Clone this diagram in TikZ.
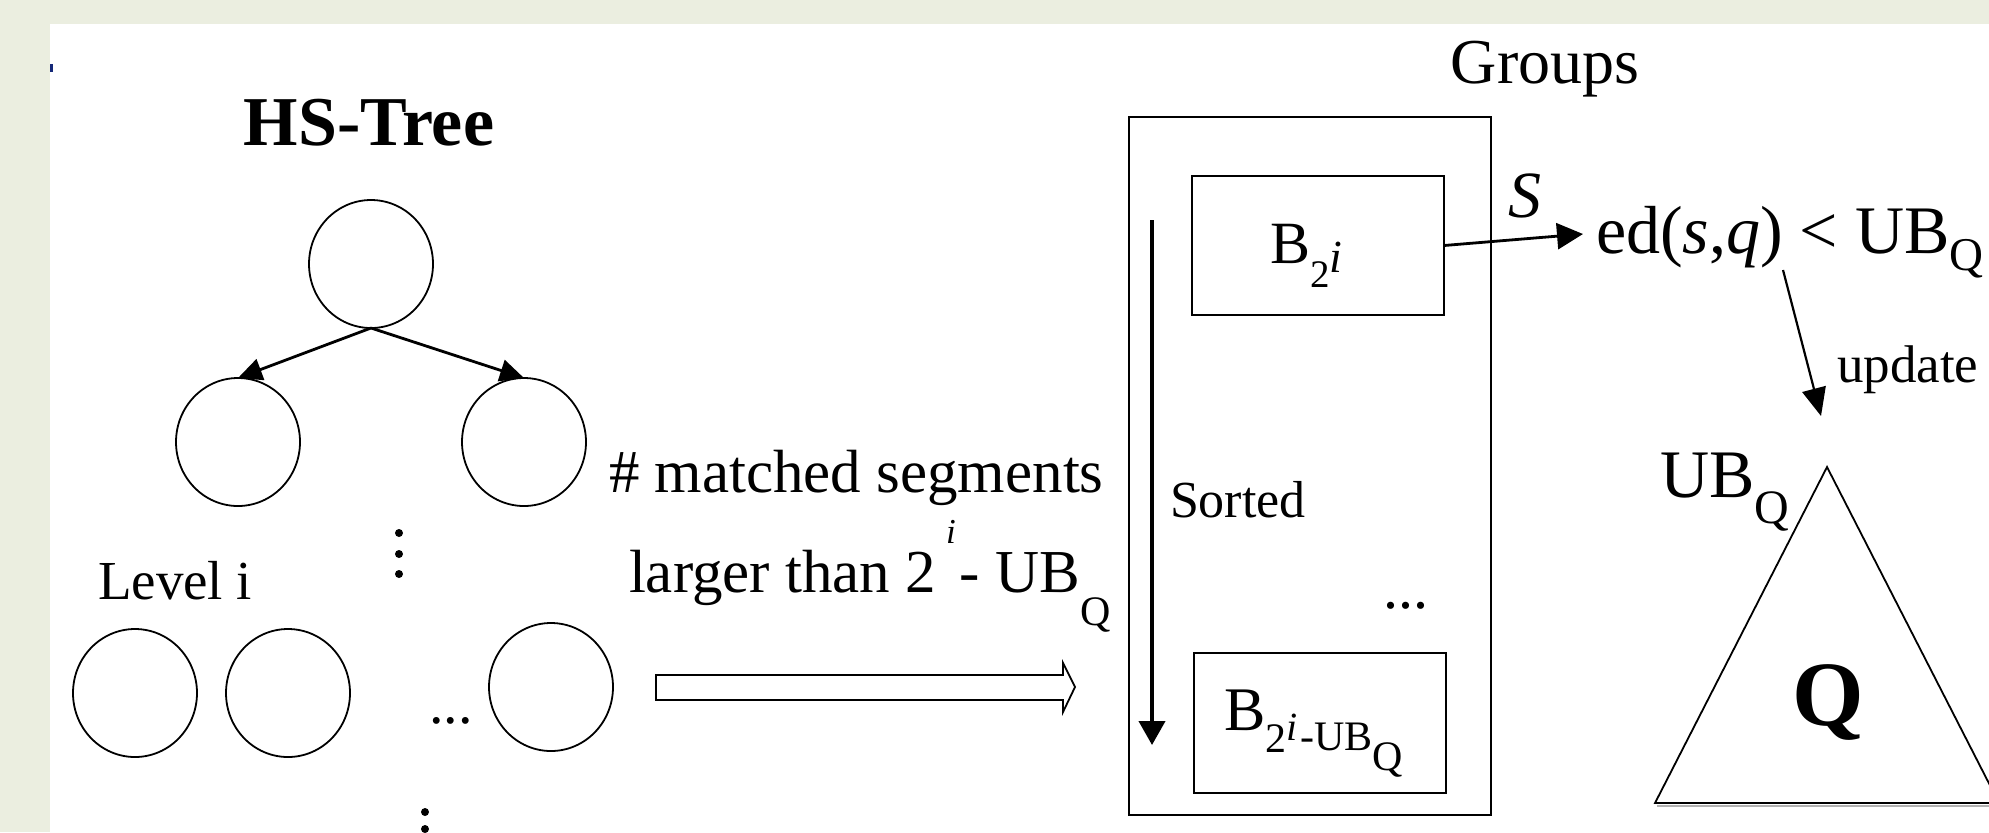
\documentclass[tikz,border=0pt]{standalone}
\usepackage{fontspec}
\setmainfont{Liberation Serif}
\usetikzlibrary{arrows.meta,shapes.geometric}
\definecolor{bgc}{RGB}{235,238,224}
\definecolor{dotblue}{RGB}{20,40,120}
\newcommand{\fs}[1]{\fontsize{#1}{#1}\selectfont}
\begin{document}
\begin{tikzpicture}[x=0.5pt,y=-0.5pt,
  every node/.style={inner sep=0pt, outer sep=0pt},
  tnode/.style={draw, ellipse, line width=0.9pt, minimum width=62pt, minimum height=64pt},
  box/.style={draw, line width=1.1pt},
  treearr/.style={line width=1.4pt, -{Triangle[length=12pt,width=11pt]}},
  vdot/.style={fill=black}
 ]
\useasboundingbox (0,0) rectangle (1989,832);
\fill[bgc] (0,0) rectangle (1989,832);
\fill[white] (50,24) rectangle (1989,832);
\fill[dotblue] (50,64) rectangle (53,72);

% HS-Tree
\node[anchor=base, font=\fs{35}\bfseries] (title) at (369,145) {HS-Tree};
\node[tnode] (r) at (371,264) {};
\node[tnode] (c1) at (238,442) {};
\node[tnode] (c2) at (524,442) {};
\draw[treearr] (r.south) -- (c1.north);
\draw[treearr] (r.south) -- (c2.north);
\foreach \y in {533,554,574} \fill[vdot] (399,\y) circle[radius=2pt];
\node[anchor=base west, font=\fs{27.5}] (lvl) at (98,599) {Level i};
\node[tnode] (l1) at (135,693) {};
\node[tnode] (l2) at (288,693) {};
\node[tnode] (l3) at (551,687) {};
\node[anchor=base west, font=\fs{29}] (rowdots) at (429,723) {...};
\foreach \y in {812,829,846} \fill[vdot] (425,\y) circle[radius=2pt];

% condition text
\node[anchor=base west, font=\fs{30.5}] (m1) at (609,492) {\# matched segments};
\node[anchor=base west, font=\fs{30.5}] (m2) at (629,592)
  {larger than 2\hspace{5pt}\raisebox{24.5pt}{\fs{17.5}\itshape i}\hspace{2pt}- UB\raisebox{-16.5pt}{\fs{21}Q}};

% hollow arrow
\draw[line width=0.9pt] (656,675) -- (1063,675) -- (1063,663) -- (1075,687)
  -- (1063,712) -- (1063,700) -- (656,700) -- cycle;

% groups
\node[anchor=base, font=\fs{32}] (glabel) at (1545,83) {Groups};
\node[box, minimum width=181pt, minimum height=349pt] (grp) at (1310,466) {};
\node[box, minimum width=126pt, minimum height=69.5pt] (b1) at (1318,245.5) {};
\node[box, minimum width=126pt, minimum height=70pt] (b2) at (1320,723) {};
\node[anchor=base west, font=\fs{30}] (b1t) at (1270,263)
  {B\lower12pt\hbox{\fs{19.5}2}\lower4.5pt\hbox{\fs{23}\itshape i}};
\node[anchor=base west, font=\fs{31}] (b2t) at (1224,730)
  {B\lower11pt\hbox{\fs{21}2}\lower5pt\hbox{\fs{20}\itshape i}\hspace{1.5pt}\lower10pt\hbox{\fs{21}-UB}\lower20pt\hbox{\fs{21}Q}};
\coordinate (st) at (1152,220);
\coordinate (se) at (1152,745);
\draw[line width=2pt, -{Triangle[length=12pt,width=13pt]}] (st) -- (se);
\node[anchor=base west, font=\fs{26}] (sorted) at (1170,517) {Sorted};
\node[anchor=base west, font=\fs{30}] (bdots) at (1383,608) {...};

% right part
\node[anchor=base west, font=\fs{33}\itshape] (slab) at (1508,217) {S};
\node[anchor=base west, font=\fs{34}] (ed) at (1596,253)
  {ed(\textit{s},\textit{q}) < UB\lower8.5pt\hbox{\fs{23.5}Q}};
\coordinate (sa) at (1583,234);
\draw[line width=1.4pt, -{Triangle[length=13pt,width=13pt]}] (b1.east) -- (sa);
\coordinate (u1) at (1783,270);
\coordinate (u2) at (1821,416);
\draw[line width=1.1pt, -{Triangle[length=14pt,width=12pt]}] (u1) -- (u2);
\node[anchor=base west, font=\fs{26.5}] (upd) at (1837,382) {update};
\node[anchor=base west, font=\fs{34}] (ubq) at (1660,497) {UB\lower13pt\hbox{\fs{24}Q}};
\coordinate (ta) at (1827,467);
\coordinate (tr) at (1999,803);
\coordinate (tl) at (1655,803);
\draw[gray!60, line width=1.2pt] (1657,806) -- (1999,806);
\draw[line width=0.9pt] (ta) -- (tr) -- (tl) -- cycle;
\node[anchor=base, font=\fs{46}\bfseries] (qq) at (1828,725) {Q};
\end{tikzpicture}
\end{document}
